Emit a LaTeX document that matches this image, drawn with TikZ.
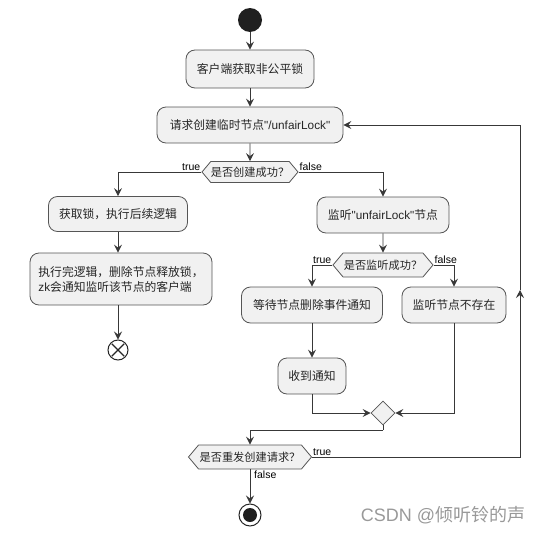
\documentclass[tikz,border=0pt]{standalone}
\usepackage{fontspec}
\setmainfont{Liberation Sans}
\newfontfamily\cjk{Noto Sans CJK SC}
\usetikzlibrary{arrows.meta,shapes.symbols,shapes.geometric,calc}
\definecolor{boxfill}{HTML}{F1F1F1}
\definecolor{edge}{HTML}{555555}
\definecolor{linec}{HTML}{383838}
\newcommand{\dq}{\textquotedbl}
\tikzset{
  act/.style={draw=edge, fill=boxfill, rounded corners=9pt, line width=0.8pt, inner sep=0pt,
    font=\fontsize{11.8}{15}\selectfont, text=black!85},
  dec/.style={draw=edge, fill=boxfill, signal, signal to=west and east, signal pointer angle=100,
    line width=0.8pt, inner sep=0pt, font=\fontsize{11.2}{13}\selectfont, text=black!85},
  lbl/.style={font=\fontsize{10.5}{12}\selectfont, text=black, inner sep=1pt},
  conn/.style={draw=linec, line width=0.9pt},
  arr/.style={conn, -{Stealth[length=8pt,width=8pt,inset=3pt]}},
}
\begin{document}
\begin{tikzpicture}[x=1pt,y=-1pt]
\useasboundingbox (0,0) rectangle (544,533);
% start
\node[circle, fill=black!88, minimum size=24pt, inner sep=0pt] (start) at (250,20) {};
\node[act, minimum width=128pt, minimum height=38pt] (b1) at (250,69) {\cjk 客户端获取非公平锁};
\node[act, minimum width=186pt, minimum height=36pt] (b2) at (250,125) {{\cjk 请求创建临时节点}\dq/unfairLock\dq};
\node[dec, minimum width=94pt, minimum height=21pt] (d1) at (250,172) {\cjk 是否创建成功？};
\node[act, minimum width=139pt, minimum height=35pt] (b3) at (118,214) {\cjk 获取锁，执行后续逻辑};
\node[act, minimum width=182pt, minimum height=52pt, align=left] (b4) at (121,279) {{\cjk 执行完逻辑，删除节点释放锁，}\\zk{\cjk 会通知监听该节点的客户端}};
\node[circle, draw=black!85, line width=1pt, minimum size=20pt, inner sep=0pt] (end1) at (118,350) {};
\draw[black!85, line width=1.2pt] ($(end1.center)+(-6.3,-6.3)$) -- ($(end1.center)+(6.3,6.3)$);
\draw[black!85, line width=1.2pt] ($(end1.center)+(-6.3,6.3)$) -- ($(end1.center)+(6.3,-6.3)$);
\node[act, minimum width=132pt, minimum height=36pt] (b5) at (383,215) {{\cjk 监听}\dq unfairLock\dq{\cjk 节点}};
\node[dec, minimum width=100pt, minimum height=24pt] (d2) at (383,265) {\cjk 是否监听成功？};
\node[act, minimum width=141pt, minimum height=36pt] (b6) at (312,305) {\cjk 等待节点删除事件通知};
\node[act, minimum width=104pt, minimum height=36pt] (b7) at (454,305) {\cjk 监听节点不存在};
\node[act, minimum width=68pt, minimum height=36pt] (b8) at (312,376) {\cjk 收到通知};
\node[diamond, draw=edge, fill=boxfill, line width=0.8pt, minimum width=24pt, minimum height=24pt, inner sep=0pt] (m) at (383,413) {};
\node[dec, minimum width=123pt, minimum height=24pt] (d3) at (250,457) {\cjk 是否重发创建请求？};
\node[circle, draw=black!85, line width=1pt, minimum size=22pt, inner sep=0pt] (endf) at (250,515) {};
\node[circle, fill=black!88, minimum size=14pt, inner sep=0pt] at (endf.center) {};
% connectors
\draw[arr] (start) -- (b1);
\draw[arr] (b1) -- (b2);
\draw[arr] (b2) -- (d1);
\draw[arr] (d1.west) -| (b3.north);
\node[lbl, anchor=south east] at (d1.west) {true};
\draw[arr] (d1.east) -| (b5.north);
\node[lbl, anchor=south west] at (d1.east) {false};
\draw[arr] (b3.south) -- (b3.south |- b4.north);
\draw[arr] (b4.south -| end1) -- (end1.north);
\draw[arr] (b5) -- (d2);
\draw[arr] (d2.west) -| (b6.north);
\node[lbl, anchor=south east] at (d2.west) {true};
\draw[arr] (d2.east) -| (b7.north);
\node[lbl, anchor=south west] at (d2.east) {false};
\draw[arr] (b6) -- (b8);
\draw[arr] (b8.south) |- (m.west);
\draw[arr] (b7.south) |- (m.east);
\coordinate (mj) at (383,430);
\draw[conn] (m.south) -- (mj);
\draw[arr] (mj) -| (d3.north);
\coordinate (c1) at (520,457);
\coordinate (cmid) at (520,290);
\coordinate (c2) at (520,125);
\draw[arr] (d3.east) -- (c1) -- (cmid);
\draw[arr] (cmid) -- (c2) -- (b2.east);
\node[lbl, anchor=south west] at (d3.east) {true};
\draw[arr] (d3.south) -- (endf.north);
\node[lbl, anchor=north west] at ([xshift=3pt]d3.south) {false};
% watermark
\node[text=black!40, font=\fontsize{18}{20}\selectfont] (wm) at (443,515) {CSDN @{\cjk 倾听铃的声}};
\end{tikzpicture}
\end{document}
